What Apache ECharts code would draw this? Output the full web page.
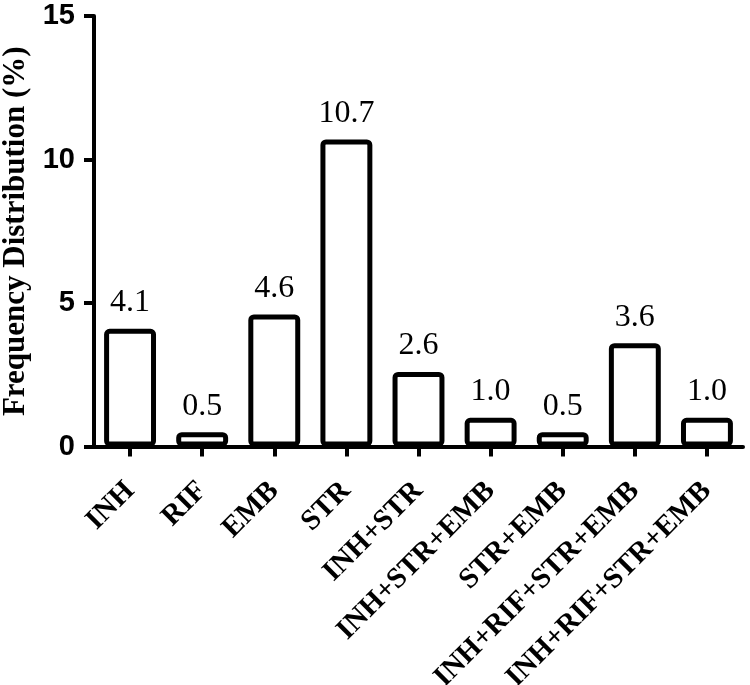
<!DOCTYPE html>
<html>
<head>
<meta charset="utf-8">
<script src="https://cdn.jsdelivr.net/npm/echarts@6/dist/echarts.min.js"></script>
<style>html,body{margin:0;padding:0;background:#fff;}#c{width:750px;height:685px;}</style>
</head>
<body>
<div id="c"></div>
<script>
const categories = ['INH', 'RIF', 'EMB', 'STR', 'INH+STR', 'INH+STR+EMB', 'STR+EMB', 'INH+RIF+STR+EMB', 'INH+RIF+STR+EMB'];
const values = [4.1, 0.5, 4.6, 10.7, 2.6, 1.0, 0.5, 3.6, 1.0];
const yTicks = [0, 5, 10, 15];
const yTitle = 'Frequency Distribution (%)';

const chart = echarts.init(document.getElementById('c'), null, {renderer: 'canvas'});
chart.setOption({
  animation: false,
  backgroundColor: '#fff',
  grid: {left: 94, right: 7, top: 16, bottom: 238.5, containLabel: false, outerBoundsMode: 'none'},
  xAxis: {
    type: 'category',
    data: categories.map((c, i) => ({value: i, label: c})),
    axisLine: {lineStyle: {color: '#000', width: 4}},
    axisTick: {show: true, alignWithLabel: true, length: 10, lineStyle: {color: '#000', width: 4}},
    axisLabel: {
      interval: 0, rotate: 45, margin: 40,
      formatter: (v) => categories[+v],
      fontFamily: 'Liberation Serif, Times New Roman, serif', fontWeight: 'bold', fontSize: 29, color: '#000'
    }
  },
  yAxis: {
    type: 'value', min: yTicks[0], max: yTicks[yTicks.length - 1], interval: 5,
    name: yTitle, nameLocation: 'middle', nameGap: 61,
    nameTextStyle: {fontFamily: 'Liberation Serif, Times New Roman, serif', fontWeight: 'bold', fontSize: 31, color: '#000'},
    axisLine: {show: true, lineStyle: {color: '#000', width: 4}},
    axisTick: {show: true, length: 10, lineStyle: {color: '#000', width: 4}},
    splitLine: {show: false},
    axisLabel: {margin: 19, fontFamily: 'Liberation Sans, Arial, sans-serif', fontWeight: 'bold', fontSize: 29, color: '#000'}
  },
  series: [{
    type: 'bar',
    data: values,
    barWidth: '72%',
    itemStyle: {color: '#fff', borderColor: '#000', borderWidth: 5, borderRadius: 3},
    label: {
      show: true, position: 'top', distance: 10,
      formatter: (p) => p.value.toFixed(1),
      fontFamily: 'Liberation Serif, Times New Roman, serif', fontSize: 32, color: '#000'
    }
  }]
});
</script>
</body>
</html>
